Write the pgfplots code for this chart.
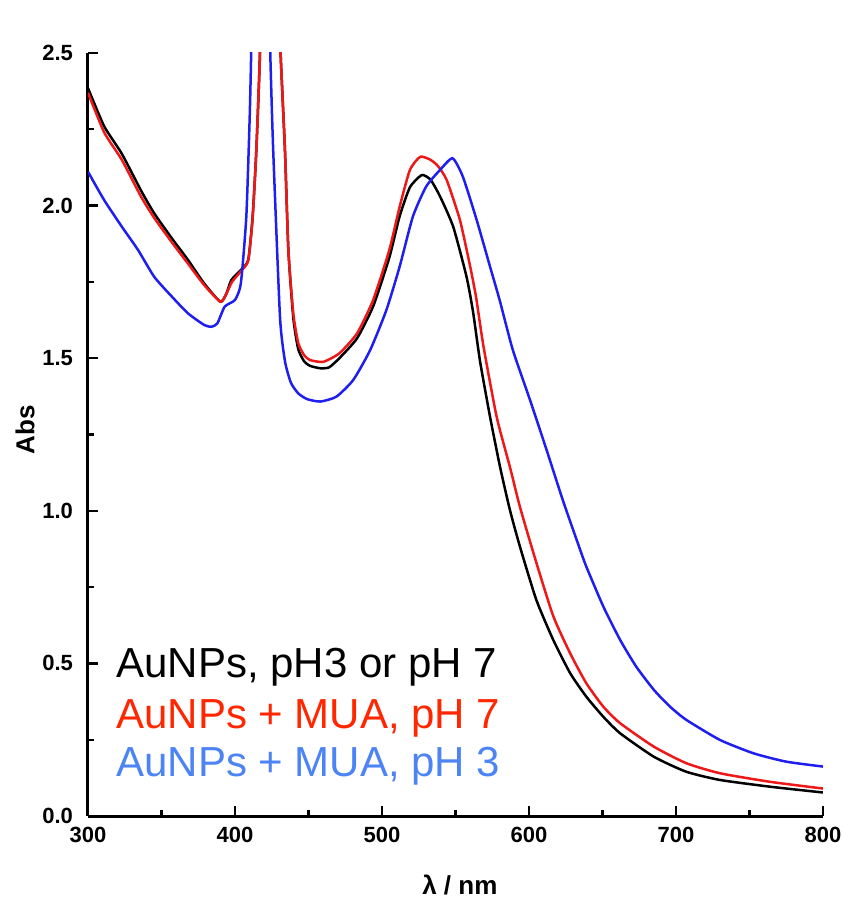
\documentclass[border=0pt]{standalone}
\usepackage{fontspec}
\setmainfont{Liberation Sans}
\usepackage{pgfplots}
\pgfplotsset{compat=1.18}
\definecolor{lred}{RGB}{238,24,24}
\definecolor{lblue}{RGB}{30,30,240}
\definecolor{tred}{RGB}{255,38,0}
\definecolor{tblue}{RGB}{76,132,246}
\begin{document}
\begin{tikzpicture}
\begin{axis}[
  at={(0pt,0pt)}, anchor=south west, scale only axis,
  width=367.5pt, height=381.5pt,
  xmin=300, xmax=800, ymin=0, ymax=2.5,
  axis x line*=bottom, axis y line*=left,
  axis line style={line width=1.5pt},
  tick align=inside,
  xtick={300,400,500,600,700,800}, minor xtick={350,450,550,650,750},
  ytick={0,0.5,1.0,1.5,2.0,2.5}, minor ytick={0.25,0.75,1.25,1.75,2.25},
  major tick length=5pt, minor tick length=3pt,
  every tick/.style={line width=1.2pt, black},
  /pgf/number format/assume math mode=true,
  ticklabel style={font=\fontsize{11}{12}\selectfont\bfseries},
  y tick label style={/pgf/number format/fixed, /pgf/number format/fixed zerofill, /pgf/number format/precision=1, xshift=-4pt},
  x tick label style={yshift=-2pt},
  xlabel={λ / nm},
  ylabel={Abs},
  xlabel style={at={(axis description cs:0.506,-0.0904)}, anchor=center, font=\fontsize{13}{14}\selectfont\bfseries},
  ylabel style={at={(axis description cs:-0.0857,0.506)}, anchor=center, rotate=0, font=\fontsize{13}{14}\selectfont\bfseries},
  every axis plot/.style={line width=1.25pt, line join=round, smooth, tension=0.35},
]
% black: AuNPs
\addplot[black] coordinates {
(300,2.385) (311,2.26) (323,2.17) (336,2.05) (345,1.975) (357,1.893) (368,1.822) (379,1.745) (390,1.685) (394,1.71) (397.5,1.756) (404,1.789) (409,1.822) (412,1.964) (414.5,2.18) (417,2.5) (418,2.8)
(429,2.8) (431,2.5) (434,2.18) (436.3,1.855) (439.7,1.63) (443,1.53) (447,1.49) (451,1.475) (458,1.467) (464,1.47) (471,1.50) (483,1.565) (494,1.67) (505,1.83) (512,1.965) (519,2.06) (527,2.10) (533,2.085) (539.5,2.03) (548.5,1.93) (557.6,1.765) (562,1.65) (566.7,1.49) (573.5,1.308) (580.3,1.144) (587,1.003) (594,0.88) (605,0.708) (616.5,0.577) (628,0.468) (639,0.391) (650.6,0.325) (662,0.271) (685,0.194) (707,0.145) (730,0.118) (764,0.096) (800,0.077)
};
% red: AuNPs + MUA pH 7
\addplot[lred] coordinates {
(300,2.37) (311,2.24) (323,2.15) (336,2.03) (345,1.96) (357,1.88) (368,1.81) (379,1.74) (390,1.685) (394,1.71) (398,1.75) (404,1.785) (409,1.82) (412,1.96) (414.5,2.18) (417,2.5) (418,2.8)
(429,2.8) (431,2.5) (434,2.18) (436.3,1.855) (439.7,1.645) (443,1.55) (447,1.51) (451,1.494) (460,1.488) (471,1.516) (483,1.581) (494,1.691) (505,1.855) (512,1.996) (519,2.117) (526,2.16) (533,2.15) (538,2.13) (544,2.084) (553,1.953) (560,1.80) (564,1.70) (569,1.54) (578,1.308) (587,1.144) (594,1.01) (605,0.83) (616.5,0.655) (628,0.533) (639,0.435) (650.6,0.358) (662,0.304) (685,0.227) (707,0.173) (730,0.140) (764,0.112) (800,0.090)
};
% blue: AuNPs + MUA pH 3
\addplot[lblue] coordinates {
(300,2.111) (311,2.018) (323,1.931) (334,1.855) (345,1.767) (357,1.702) (368,1.647) (379,1.609) (384,1.603) (388,1.614) (393,1.669) (400,1.691) (404,1.746) (407.7,1.964) (410,2.29) (411,2.5) (412,2.8)
(423,2.8) (424,2.5) (426,2.18) (430.6,1.636) (434,1.49) (438,1.42) (443,1.385) (449,1.366) (458,1.358) (469,1.374) (480.5,1.429) (492,1.527) (503,1.658) (512,1.80) (521,1.964) (530,2.062) (539.5,2.117) (548,2.155) (555,2.095) (564.4,1.953) (573.5,1.80) (580,1.691) (589,1.527) (600.7,1.363) (612,1.199) (623,1.035) (633.5,0.89) (639,0.817) (650.6,0.686) (662,0.577) (673,0.489) (685,0.413) (696,0.358) (707,0.315) (730,0.249) (753,0.205) (775,0.178) (800,0.162)
};
\node[anchor=base west, inner sep=0pt, font=\fontsize{21}{25}\selectfont, text=black] at (axis cs:319,0.455) {AuNPs, pH3 or pH 7};
\node[anchor=base west, inner sep=0pt, font=\fontsize{21}{25}\selectfont, text=tred] at (axis cs:319,0.288) {AuNPs + MUA, pH 7};
\node[anchor=base west, inner sep=0pt, font=\fontsize{21}{25}\selectfont, text=tblue] at (axis cs:319,0.128) {AuNPs + MUA, pH 3};
\end{axis}
\pgfresetboundingbox
\useasboundingbox (-44pt,-44pt) rectangle (377pt,408pt);
\end{tikzpicture}
\end{document}
